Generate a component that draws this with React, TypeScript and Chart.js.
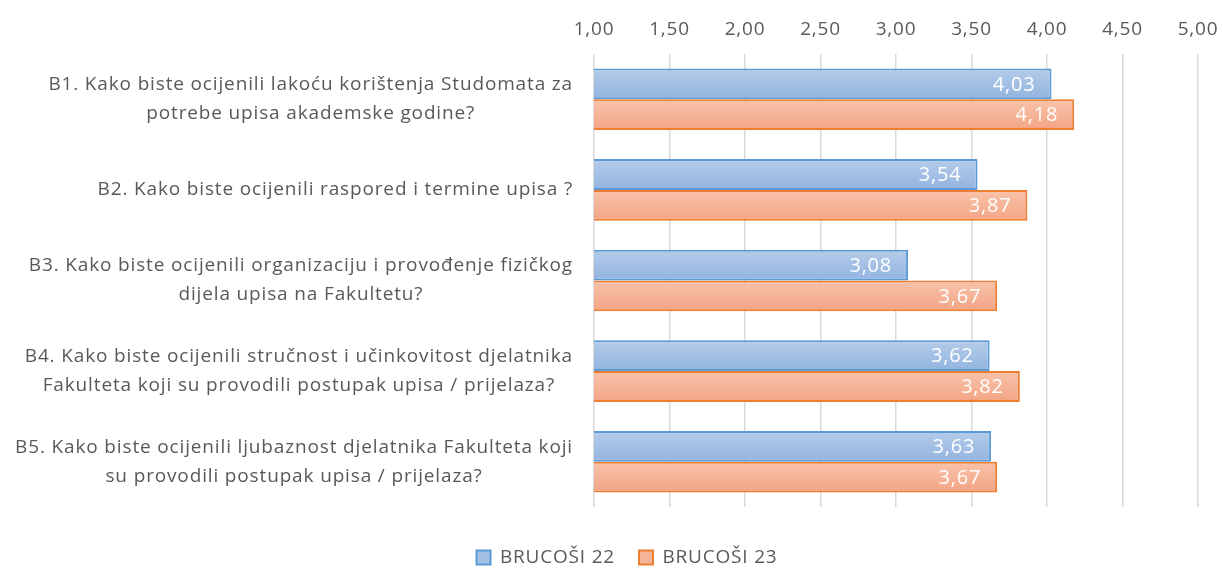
import React, { useEffect, useRef } from "react";
import { Chart, registerables } from "chart.js";

Chart.register(...registerables);

const FONT = "'Open Sans', 'Noto Sans', sans-serif";

const categories: string[][] = [
  ["B1. Kako biste ocijenili lakoću korištenja Studomata za", "potrebe upisa akademske godine?"],
  ["B2. Kako biste ocijenili raspored i termine upisa ?"],
  ["B3. Kako biste ocijenili organizaciju i provođenje fizičkog", "dijela upisa na Fakultetu?"],
  ["B4. Kako biste ocijenili stručnost i učinkovitost djelatnika", "Fakulteta koji su provodili postupak upisa / prijelaza?"],
  ["B5. Kako biste ocijenili ljubaznost djelatnika Fakulteta koji", "su provodili postupak upisa / prijelaza?"],
];

const seriesNames = ["BRUCOŠI 22", "BRUCOŠI 23"];
const brucosi22 = [4.03, 3.54, 3.08, 3.62, 3.63];
const brucosi23 = [4.18, 3.87, 3.67, 3.82, 3.67];

const axisMin = 1;
const axisMax = 5;
const axisStep = 0.5;

const fmt = (v: number) => v.toFixed(2).replace(".", ",");

const COLORS = [
  { top: "#b5cce9", bottom: "#92b4e0", border: "#5b9bd5", mid: "#a4c0e5" },
  { top: "#f8c3ab", bottom: "#f3a484", border: "#ed7d31", mid: "#f5b497" },
];

const spacingPlugin = {
  id: "letterSpacing",
  beforeLayout(chart: any) {
    chart.ctx.letterSpacing = "0.8px";
  },
  beforeDraw(chart: any) {
    chart.ctx.letterSpacing = "0.8px";
  },
};

const gradientPlugin = {
  id: "barGradient",
  beforeDatasetsDraw(chart: any) {
    const ctx = chart.ctx;
    chart.data.datasets.forEach((ds: any, di: number) => {
      const meta = chart.getDatasetMeta(di);
      const c = COLORS[di];
      meta.data.forEach((el: any) => {
        const h = el.height;
        const g = ctx.createLinearGradient(0, el.y - h / 2, 0, el.y + h / 2);
        g.addColorStop(0, c.top);
        g.addColorStop(1, c.bottom);
        el.options = Object.assign({}, el.options, { backgroundColor: g });
      });
    });
  },
};

const valueLabelPlugin = {
  id: "valueLabels",
  afterDatasetsDraw(chart: any) {
    const ctx = chart.ctx;
    ctx.save();
    ctx.letterSpacing = "0.8px";
    ctx.font = `20px ${FONT}`;
    ctx.fillStyle = "#ffffff";
    ctx.textAlign = "right";
    ctx.textBaseline = "middle";
    chart.data.datasets.forEach((ds: any, di: number) => {
      const meta = chart.getDatasetMeta(di);
      meta.data.forEach((el: any, i: number) => {
        ctx.fillText(fmt(ds.data[i]), el.x - 16, el.y + 1);
      });
    });
    ctx.restore();
  },
};

const categoryLabelPlugin = {
  id: "categoryLabels",
  afterDraw(chart: any) {
    const ctx = chart.ctx;
    const ys = chart.scales.y;
    ctx.save();
    ctx.letterSpacing = "0.85px";
    ctx.font = `19px ${FONT}`;
    ctx.fillStyle = "#595959";
    ctx.textAlign = "center";
    ctx.textBaseline = "middle";
    const lineH = 29;
    categories.forEach((lines, i) => {
      const cy = ys.getPixelForValue(i);
      const maxW = Math.max(...lines.map((l) => ctx.measureText(l).width));
      const cx = chart.chartArea.left - 21 - maxW / 2;
      lines.forEach((l, j) => {
        ctx.fillText(l, cx, cy + (j - (lines.length - 1) / 2) * lineH);
      });
    });
    ctx.restore();
  },
};

const legendShiftPlugin = {
  id: "legendShift",
  afterLayout(chart: any) {
    if (chart.legend) {
      chart.legend.top += 7;
      chart.legend.bottom += 7;
      chart.legend.left += 28;
      chart.legend.right += 28;
    }
  },
};

export default function App() {
  const ref = useRef<HTMLCanvasElement>(null);

  useEffect(() => {
    document.body.style.margin = "0";
    const canvas = ref.current;
    if (!canvas) return;
    const chart = new Chart(canvas, {
      type: "bar",
      data: {
        labels: categories.map((c) => c.join(" ")),
        datasets: [
          {
            label: seriesNames[0],
            data: brucosi22,
            backgroundColor: COLORS[0].mid,
            borderColor: COLORS[0].border,
            borderWidth: 2,
            borderSkipped: false,
            barPercentage: 1,
            categoryPercentage: 0.68,
          },
          {
            label: seriesNames[1],
            data: brucosi23,
            backgroundColor: COLORS[1].mid,
            borderColor: COLORS[1].border,
            borderWidth: 2,
            borderSkipped: false,
            barPercentage: 1,
            categoryPercentage: 0.68,
          },
        ],
      },
      options: {
        indexAxis: "y",
        responsive: false,
        animation: false,
        layout: { padding: { left: 0, right: 25, top: 0, bottom: 0 } },
        scales: {
          x: {
            type: "linear",
            position: "top",
            min: axisMin,
            max: axisMax,
            ticks: {
              stepSize: axisStep,
              callback: (v: any) => fmt(Number(v)),
              color: "#595959",
              font: { family: FONT, size: 19 },
              padding: 13,
            },
            grid: { color: "#d9d9d9", lineWidth: 1.5, drawTicks: false },
            border: { display: false },
            afterFit: (s: any) => {
              s.height = 54;
              s.paddingLeft = 0;
              s.paddingRight = 0;
            },
          },
          x2: {
            type: "linear",
            position: "bottom",
            display: true,
            grid: { display: false, drawTicks: false },
            ticks: { display: false },
            border: { display: false },
            afterFit: (s: any) => {
              s.height = 10;
              s.paddingLeft = 0;
              s.paddingRight = 0;
            },
          },
          y: {
            type: "category",
            ticks: { display: false },
            grid: { display: false, drawTicks: false },
            border: { display: false },
            afterFit: (s: any) => {
              s.width = 594;
            },
          },
        },
        plugins: {
          legend: {
            display: true,
            position: "bottom",
            labels: {
              boxWidth: 14,
              boxHeight: 14,
              padding: 24,
              color: "#595959",
              font: { family: FONT, size: 19 },
            },
          },
          tooltip: { enabled: false },
        },
      },
      plugins: [spacingPlugin, gradientPlugin, valueLabelPlugin, categoryLabelPlugin, legendShiftPlugin],
    } as any);
    return () => chart.destroy();
  }, []);

  return (
    <div style={{ width: 1223, height: 570 }}>
      <canvas ref={ref} width={1223} height={570} />
    </div>
  );
}
